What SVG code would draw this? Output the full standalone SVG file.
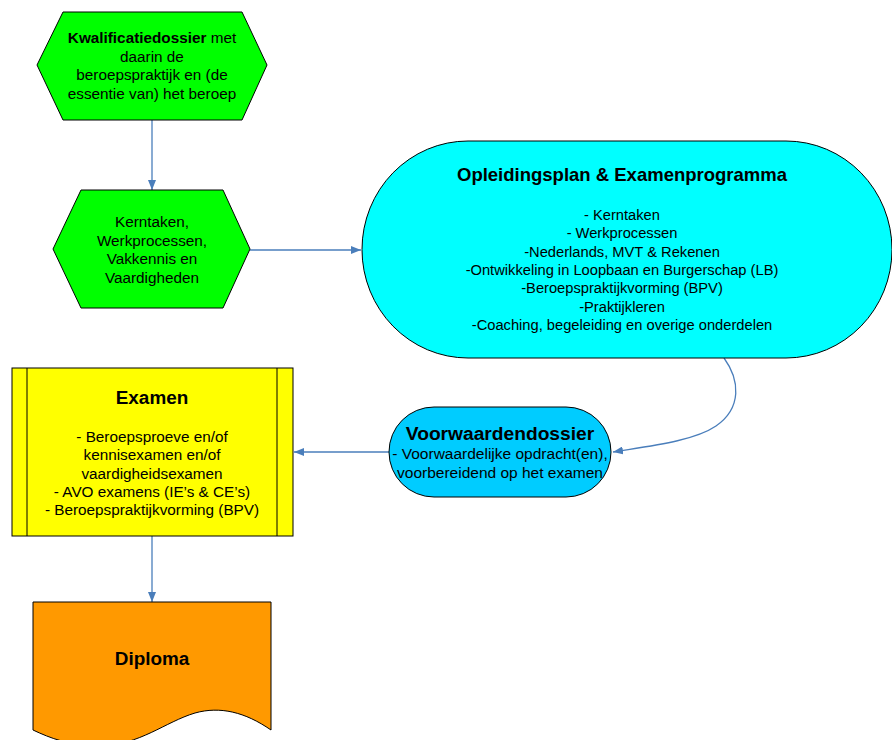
<svg xmlns="http://www.w3.org/2000/svg" width="892" height="740" viewBox="0 0 892 740">
<defs>
<style>
text{font-family:"Liberation Sans",Arial,sans-serif;font-size:15.3px;fill:#000;text-anchor:middle}
.b{font-weight:bold;font-size:18.9px}
.s{font-size:14.7px}
.sh{stroke:#000;stroke-width:1}
.c{fill:none;stroke:#4A7EBB;stroke-width:1.3}
</style>
<marker id="ah" markerWidth="10" markerHeight="8" refX="10" refY="4" orient="auto" markerUnits="userSpaceOnUse">
<path d="M0,0 L10,4 L0,8 Z" fill="#4A7EBB"/>
</marker>
</defs>
<rect width="892" height="740" fill="#fff"/>
<g id="connectors">
<path class="c" d="M152,120 V190" marker-end="url(#ah)"/>
<path class="c" d="M250,250 H361" marker-end="url(#ah)"/>
<path class="c" d="M724,358 C740,380 742,408 716,426 C694,441 650,446 613,452" marker-end="url(#ah)"/>
<path class="c" d="M389,452 H294" marker-end="url(#ah)"/>
<path class="c" d="M152,536 V602" marker-end="url(#ah)"/>
</g>
<g id="kwalificatiedossier">
<polygon class="sh" fill="#00FF00" points="37,65 63,12 242,12 267,65 242,120 63,120"/>
<text x="152" y="43"><tspan font-weight="bold">Kwalificatiedossier</tspan> met</text>
<text x="152" y="61.7">daarin de</text>
<text x="152" y="80.3">beroepspraktijk en (de</text>
<text x="152" y="99">essentie van) het beroep</text>
</g>
<g id="kerntaken">
<polygon class="sh" fill="#00FF00" points="53,249 81,190 223,190 250,249 223,308 81,308"/>
<text x="152" y="227">Kerntaken,</text>
<text x="152" y="245.5">Werkprocessen,</text>
<text x="152" y="264">Vakkennis en</text>
<text x="152" y="282.5">Vaardigheden</text>
</g>
<g id="opleidingsplan">
<rect class="sh" fill="#00FFFF" x="362" y="141" width="530" height="217" rx="106" ry="108.5"/>
<text class="b" x="622" y="181" style="font-size:18.5px">Opleidingsplan &amp; Examenprogramma</text>
<text class="s" x="622" y="220">- Kerntaken</text>
<text class="s" x="622" y="238.3">- Werkprocessen</text>
<text class="s" x="622" y="256.7">-Nederlands, MVT &amp; Rekenen</text>
<text class="s" x="622" y="275">-Ontwikkeling in Loopbaan en Burgerschap (LB)</text>
<text class="s" x="622" y="293.3">-Beroepspraktijkvorming (BPV)</text>
<text class="s" x="622" y="311.7">-Praktijkleren</text>
<text class="s" x="622" y="330">-Coaching, begeleiding en overige onderdelen</text>
</g>
<g id="voorwaardendossier">
<rect class="sh" fill="#00CCFF" x="389" y="407" width="222" height="90" rx="45" ry="45"/>
<text class="b" x="500" y="439.5" style="font-size:19.2px">Voorwaardendossier</text>
<text x="500" y="459" style="font-size:15.5px">- Voorwaardelijke opdracht(en),</text>
<text x="500" y="478" style="font-size:15.5px">voorbereidend op het examen</text>
</g>
<g id="examen">
<rect class="sh" fill="#FFFF00" x="12" y="368" width="281" height="168"/>
<path class="sh" d="M27,368 V536 M277,368 V536"/>
<text class="b" x="152" y="403.5">Examen</text>
<text x="152" y="442">- Beroepsproeve en/of</text>
<text x="152" y="460.3">kennisexamen en/of</text>
<text x="152" y="478.7">vaardigheidsexamen</text>
<text x="152" y="497">- AVO examens (IE’s &amp; CE’s)</text>
<text x="152" y="515.3">- Beroepspraktijkvorming (BPV)</text>
</g>
<g id="diploma">
<path class="sh" fill="#FF9900" d="M33,602 H271 V730 C245,712 220,706 195,713 C165,722 140,745 100,746 C70,746 50,738 33,730 Z"/>
<text class="b" x="152" y="664.5">Diploma</text>
</g>
</svg>
